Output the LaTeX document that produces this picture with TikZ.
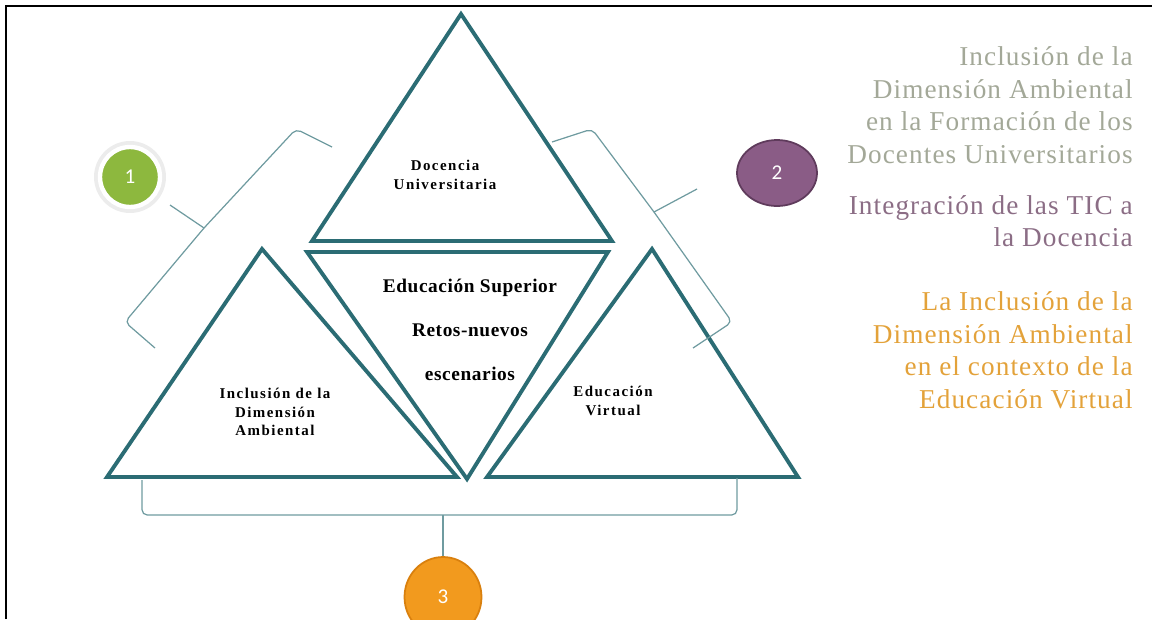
\documentclass[tikz,border=0pt]{standalone}
\usepackage{fontspec}
\setmainfont{Liberation Serif}
\newfontfamily\tagfont[LetterSpace=10]{Liberation Serif}
\newfontfamily\midfont[LetterSpace=3]{Liberation Serif}
\newfontfamily\sidefont[LetterSpace=4]{Liberation Serif}
\newfontfamily\numfont{Carlito}
\usetikzlibrary{shapes.geometric}
\definecolor{tealline}{HTML}{2B6C74}
\definecolor{brakcol}{HTML}{6F9BA0}
\definecolor{verde}{HTML}{8DB83E}
\definecolor{morado}{HTML}{8A5C86}
\definecolor{moradoline}{HTML}{5F3B5C}
\definecolor{naranja}{HTML}{F29A1E}
\definecolor{naranjaline}{HTML}{D9800E}
\definecolor{grisverde}{HTML}{A3A898}
\definecolor{grismorado}{HTML}{8B6D85}
\definecolor{oro}{HTML}{E3A23A}

\tikzset{
  tri/.style={draw=tealline, line width=2.2pt},
  brak/.style={draw=brakcol, line width=0.7pt, rounded corners=3pt},
  lbl/.style={align=center, font=\tagfont\bfseries\fontsize{8.5}{10.5}\selectfont},
  side/.style={anchor=east, align=right, inner sep=0pt, font=\sidefont\fontsize{15.5}{18.5}\selectfont},
  bola/.style={ellipse, inner sep=0pt, text=white, font=\numfont\fontsize{12}{14}\selectfont}
}

\begin{document}
\begin{tikzpicture}[x=0.02cm, y=-0.02cm]
\useasboundingbox (0,0) rectangle (1152,619);
% marco
\draw[line width=1.6pt] (6,619) -- (6,6) -- (1152,6);

% triangulos
\draw[tri] (461,14) -- (612,241) -- (312,241) -- cycle;
\draw[tri] (307,252) -- (608,252) -- (467,479) -- cycle;
\draw[tri] (262,249) -- (457,477) -- (107,477) -- cycle;
\draw[tri] (652,249) -- (798,477) -- (487,477) -- cycle;

\node[lbl] (docencia) at (445,175) {Docencia\\Universitaria};
\node[lbl] (inclusion) at (275,412) {Inclusión de la\\Dimensión\\Ambiental};
\node[lbl] (virtual) at (613,401) {Educación\\Virtual};
\node[align=center, font=\midfont\bfseries\fontsize{11}{25}\selectfont] (centro) at (470,330)
  {Educación Superior\\Retos-nuevos\\escenarios};

% circulos
\fill[gray!15] (130,177) circle[radius=0.72cm];
\node[bola, fill=verde, draw=white, line width=2.5pt, minimum width=1.2cm, minimum height=1.2cm] (c1) at (130,177) {1};
\node[bola, fill=morado, draw=moradoline, line width=1pt, minimum width=1.6cm, minimum height=1.32cm] (c2) at (777,173) {2};
\node[bola, fill=naranja, draw=naranjaline, line width=1pt, minimum width=1.54cm, minimum height=1.6cm] (c3) at (443,597) {3};

% llaves
\draw[brak] (332,147) -- (296,129) -- (204,228) -- (125,322) -- (155,348);
\draw[brak] (204,228) -- (170,205);
\draw[brak] (552,142) -- (592,129) -- (654,212) -- (732,322) -- (693,348);
\draw[brak] (654,212) -- (697,189);
\draw[brak] (142,480) -- (142,515) -- (737,515) -- (737,478);
\draw[brak] (443,515) -- (c3.north);

% textos
\node[side, text=grisverde] (bloqueA) at (1133,105)
  {Inclusión de la\\Dimensión Ambiental\\en la Formación de los\\Docentes Universitarios};
\node[side, text=grismorado] (bloqueB) at (1133,221)
  {Integración de las TIC a\\la Docencia};
\node[side, text=oro] (bloqueC) at (1133,350)
  {La Inclusión de la\\Dimensión Ambiental\\en el contexto de la\\Educación Virtual};
\end{tikzpicture}
\end{document}
